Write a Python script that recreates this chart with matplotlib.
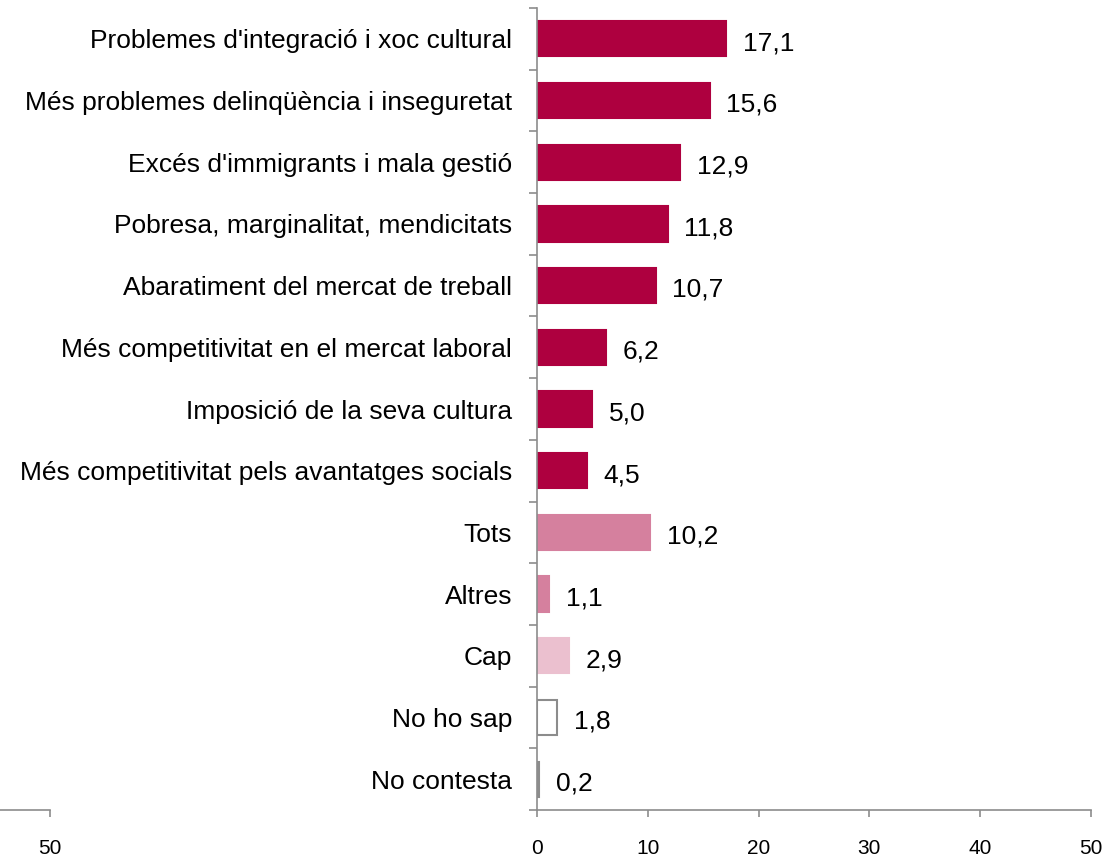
import matplotlib
matplotlib.use("Agg")
import matplotlib.pyplot as plt
import numpy as np

plt.rcParams['font.family'] = ['Liberation Sans', 'DejaVu Sans']

# categories from top to bottom
categories = [
    "Problemes d'integració i xoc cultural",
    "Més problemes delinqüència i inseguretat",
    "Excés d'immigrants i mala gestió",
    "Pobresa, marginalitat, mendicitats",
    "Abaratiment del mercat de treball",
    "Més competitivitat en el mercat laboral",
    "Imposició de la seva cultura",
    "Més competitivitat pels avantatges socials",
    "Tots",
    "Altres",
    "Cap",
    "No ho sap",
    "No contesta",
]
values = [17.1, 15.6, 12.9, 11.8, 10.7, 6.2, 5.0, 4.5, 10.2, 1.1, 2.9, 1.8, 0.2]
x_ticks = [0, 10, 20, 30, 40, 50]

dark = '#ae003f'
mid = '#d5809e'
light = '#ebc0cf'
fills = [dark] * 8 + [mid, mid, light, 'white', '#8c8c8c']
edges = [dark] * 8 + [mid, mid, light, '#8c8c8c', '#8c8c8c']
axis_grey = '#8c8c8c'

W, H = 1110, 858
fig = plt.figure(figsize=(W / 100, H / 100), dpi=100)

# main axes: x=0 at 537px, x=50 at 1091px, bottom at 810px, top at 8px
ax = fig.add_axes([537 / W, (H - 810) / H, (1091 - 537) / W, (810 - 8) / H])
y = np.arange(len(categories))
ax.barh(y, values, height=0.57, color=fills, edgecolor=edges, linewidth=1.5)
for yi, v in zip(y, values):
    ax.text(v + 1.5, yi + 0.03, f"{v:.1f}".replace('.', ','), va='center_baseline',
            ha='left', fontsize=19)

ax.set_ylim(len(categories) - 0.5, -0.5)
ax.set_xlim(0, 50)
ax.set_xticks(x_ticks)
ax.set_xticklabels([str(t) for t in x_ticks])
ax.set_yticks(y)
ax.set_yticklabels(categories)
ax.set_yticks(np.arange(-0.5, len(categories), 1), minor=True)
ax.tick_params(axis='y', which='major', length=0, pad=18, labelsize=19)
ax.tick_params(axis='y', which='minor', length=6, color=axis_grey, width=1.2)
ax.tick_params(axis='x', length=5, color=axis_grey, width=1.2, pad=16, labelsize=15)
for s in ['top', 'right']:
    ax.spines[s].set_visible(False)
for s in ['left', 'bottom']:
    ax.spines[s].set_color(axis_grey)
    ax.spines[s].set_linewidth(1.2)

# left mirrored axis fragment showing "50"
ax2 = fig.add_axes([0, (H - 810) / H, 50 / W, 0.001])
ax2.set_xlim(50 + 50 / 11.09, 50)
ax2.set_xticks([50])
ax2.set_xticklabels(['50'])
ax2.set_yticks([])
ax2.tick_params(axis='x', length=5, color=axis_grey, width=1.2, pad=16, labelsize=15)
for s in ['top', 'right', 'left']:
    ax2.spines[s].set_visible(False)
ax2.spines['bottom'].set_color(axis_grey)
ax2.spines['bottom'].set_linewidth(1.2)
ax2.patch.set_visible(False)

fig.savefig('out.png', dpi=100)
